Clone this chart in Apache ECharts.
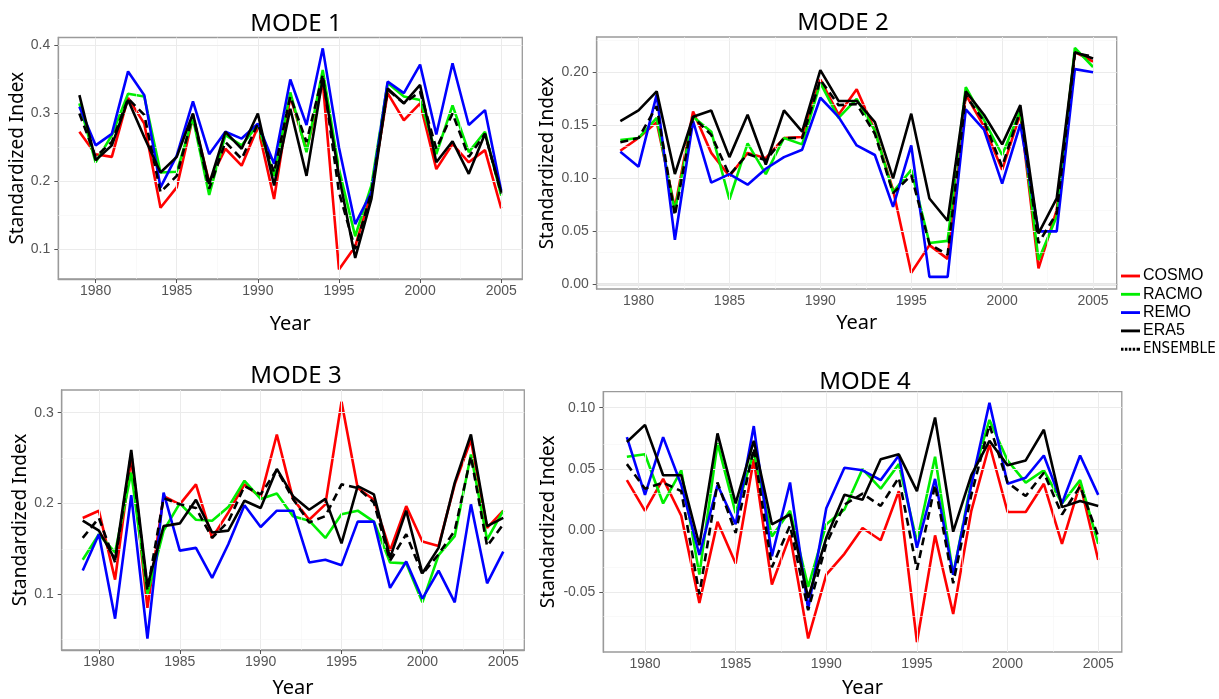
<!DOCTYPE html>
<html><head><meta charset="utf-8">
<script src="https://cdn.jsdelivr.net/npm/echarts/dist/echarts.min.js"></script>
<style>html,body{margin:0;padding:0;background:#fff}#c{width:1219px;height:699px}</style>
</head><body><div id="c"></div>
<script>
const years = [1979,1980,1981,1982,1983,1984,1985,1986,1987,1988,1989,1990,1991,1992,1993,1994,1995,1996,1997,1998,1999,2000,2001,2002,2003,2004,2005];
const seriesNames = ['COSMO','RACMO','REMO','ERA5','ENSEMBLE'];
const modeTitles = ['MODE 1','MODE 2','MODE 3','MODE 4'];
const xTicks = [1980,1985,1990,1995,2000,2005];
const xMinor = [1982.5,1987.5,1992.5,1997.5,2002.5];
const yTicks1 = [0.1,0.2,0.3,0.4];
const yMinor1 = [0.15,0.25,0.35];
const yTicks2 = [0,0.05,0.10,0.15,0.20];
const yMinor2 = [0.025,0.075,0.125,0.175,0.225];
const yTicks3 = [0.1,0.2,0.3];
const yMinor3 = [0.05,0.15,0.25];
const yTicks4 = [-0.05,0,0.05,0.10];
const yMinor4 = [-0.075,-0.025,0.025,0.075];

// MODE 1
const cosmo1 = [0.273,0.240,0.236,0.323,0.285,0.161,0.191,0.295,0.199,0.248,0.223,0.280,0.174,0.325,0.246,0.347,0.070,0.104,0.184,0.330,0.290,0.315,0.218,0.255,0.228,0.246,0.160];
const racmo1 = [0.315,0.228,0.268,0.329,0.325,0.213,0.214,0.293,0.180,0.268,0.253,0.283,0.208,0.331,0.243,0.364,0.218,0.119,0.194,0.345,0.325,0.320,0.240,0.312,0.243,0.273,0.179];
const remo1  = [0.310,0.253,0.270,0.362,0.327,0.191,0.238,0.318,0.240,0.273,0.263,0.285,0.226,0.350,0.283,0.396,0.250,0.137,0.184,0.347,0.330,0.372,0.269,0.374,0.283,0.305,0.186];
const era51  = [0.327,0.231,0.253,0.320,0.265,0.213,0.236,0.300,0.196,0.273,0.248,0.300,0.194,0.307,0.208,0.352,0.208,0.087,0.174,0.337,0.315,0.342,0.228,0.259,0.211,0.270,0.184];
const ens1   = [0.300,0.236,0.258,0.322,0.298,0.184,0.208,0.298,0.189,0.258,0.233,0.285,0.213,0.325,0.258,0.357,0.184,0.100,0.184,0.335,0.315,0.332,0.248,0.300,0.236,0.270,0.182];
// MODE 2
const cosmo2 = [0.126,0.138,0.153,0.072,0.163,0.124,0.102,0.124,0.119,0.138,0.139,0.193,0.160,0.184,0.145,0.089,0.011,0.037,0.024,0.179,0.149,0.108,0.161,0.015,0.070,0.219,0.210];
const racmo2 = [0.136,0.138,0.157,0.069,0.158,0.144,0.080,0.133,0.104,0.138,0.132,0.190,0.157,0.175,0.145,0.087,0.108,0.039,0.041,0.186,0.155,0.122,0.164,0.023,0.064,0.223,0.205];
const remo2  = [0.125,0.111,0.179,0.042,0.154,0.096,0.104,0.094,0.109,0.120,0.127,0.176,0.158,0.131,0.122,0.073,0.131,0.007,0.007,0.165,0.146,0.095,0.151,0.050,0.050,0.203,0.200];
const era52  = [0.154,0.164,0.182,0.104,0.158,0.164,0.120,0.160,0.113,0.164,0.144,0.202,0.173,0.173,0.153,0.100,0.161,0.081,0.060,0.182,0.160,0.132,0.169,0.048,0.081,0.219,0.213];
const ens2   = [0.134,0.138,0.168,0.065,0.158,0.141,0.103,0.123,0.117,0.138,0.138,0.193,0.169,0.170,0.142,0.086,0.103,0.038,0.028,0.178,0.154,0.111,0.164,0.039,0.067,0.218,0.215];
// MODE 3
const cosmo3 = [0.184,0.192,0.116,0.250,0.085,0.208,0.199,0.221,0.162,0.190,0.221,0.207,0.276,0.205,0.182,0.199,0.312,0.217,0.204,0.148,0.197,0.158,0.153,0.221,0.270,0.173,0.192];
const racmo3 = [0.138,0.166,0.146,0.234,0.100,0.170,0.200,0.182,0.181,0.196,0.225,0.205,0.211,0.186,0.181,0.162,0.188,0.192,0.180,0.135,0.134,0.091,0.143,0.164,0.254,0.160,0.192];
const remo3  = [0.126,0.166,0.073,0.209,0.051,0.212,0.148,0.151,0.118,0.155,0.198,0.174,0.192,0.192,0.135,0.138,0.132,0.180,0.180,0.107,0.136,0.095,0.126,0.091,0.199,0.112,0.147];
const era53  = [0.181,0.170,0.138,0.259,0.109,0.175,0.178,0.204,0.168,0.170,0.203,0.195,0.238,0.208,0.193,0.205,0.156,0.219,0.210,0.140,0.192,0.123,0.151,0.223,0.276,0.175,0.184];
const ens3   = [0.162,0.184,0.135,0.255,0.104,0.206,0.199,0.195,0.162,0.180,0.219,0.210,0.237,0.205,0.179,0.186,0.221,0.217,0.201,0.137,0.166,0.122,0.144,0.170,0.252,0.153,0.177];
// MODE 4
const cosmo4 = [0.041,0.016,0.042,0.012,-0.059,0.007,-0.027,0.058,-0.044,-0.004,-0.088,-0.036,-0.019,0.002,-0.008,0.032,-0.091,-0.004,-0.068,0.016,0.070,0.015,0.015,0.038,-0.011,0.038,-0.024];
const racmo4 = [0.060,0.062,0.022,0.049,-0.036,0.071,0.014,0.064,-0.005,0.016,-0.046,0.005,0.017,0.050,0.034,0.054,-0.009,0.060,-0.036,0.040,0.090,0.057,0.039,0.049,0.022,0.041,-0.011];
const remo4  = [0.076,0.029,0.076,0.037,-0.020,0.037,0.005,0.085,-0.021,0.039,-0.064,0.018,0.051,0.049,0.041,0.061,-0.014,0.042,-0.036,0.037,0.104,0.038,0.043,0.061,0.022,0.061,0.029];
const era54  = [0.072,0.086,0.045,0.045,-0.012,0.079,0.022,0.073,0.005,0.013,-0.055,-0.006,0.029,0.025,0.058,0.062,0.032,0.092,-0.001,0.045,0.073,0.053,0.057,0.082,0.019,0.024,0.020];
const ens4   = [0.054,0.034,0.039,0.032,-0.052,0.039,-0.002,0.067,-0.030,0.004,-0.065,-0.011,0.021,0.030,0.020,0.043,-0.032,0.037,-0.043,0.029,0.086,0.039,0.028,0.047,0.013,0.036,-0.005];

const panels = [
  {data:[cosmo1,racmo1,remo1,era51,ens1], ticks:yTicks1, minor:yMinor1, dec:1, yMin:0.056, yMax:0.412,
   grid:{left:58.3, top:37.5, width:464, height:241.5}, title:[291,7], yGap:24, xGap:35},
  {data:[cosmo2,racmo2,remo2,era52,ens2], ticks:yTicks2, minor:yMinor2, dec:2, yMin:-0.0044, yMax:0.2333,
   grid:{left:596.7, top:37, width:520, height:252}, title:[838,6], yGap:40, xGap:24},
  {data:[cosmo3,racmo3,remo3,era53,ens3], ticks:yTicks3, minor:yMinor3, dec:1, yMin:0.0385, yMax:0.325,
   grid:{left:61.7, top:390, width:462.6, height:261}, title:[291,359], yGap:26, xGap:28},
  {data:[cosmo4,racmo4,remo4,era54,ens4], ticks:yTicks4, minor:yMinor4, dec:2, yMin:-0.099, yMax:0.113,
   grid:{left:603.3, top:391.7, width:518.5, height:261.6}, title:[860,365], yGap:45, xGap:26}
];

const colors = ['#ff0000','#00ee00','#0000ff','#000000','#000000'];
const FONT = 'Noto Sans';
const TICKFONT = 'Liberation Sans';

const grids = [], xAxes = [], yAxes = [], series = [], titles = [];
panels.forEach((p, k) => {
  grids.push(Object.assign({show:true, borderColor:'#9a9a9a', borderWidth:1.3, backgroundColor:'#fff', containLabel:false}, p.grid));
  titles.push({text:modeTitles[k], left:p.title[0], top:p.title[1], textAlign:'center',
    textStyle:{fontSize:24, fontWeight:'normal', color:'#000', fontFamily:FONT}});
  xAxes.push({type:'value', gridIndex:k, min:1977.7, max:2006.3,
    name:'Year', nameLocation:'middle', nameGap:p.xGap,
    nameTextStyle:{fontSize:20, color:'#000', fontFamily:FONT},
    axisLine:{show:true, lineStyle:{color:'#9a9a9a', width:1.3}},
    axisTick:{show:true, length:4, lineStyle:{color:'#555'}, customValues:xTicks},
    axisLabel:{fontSize:14, color:'#555', fontFamily:TICKFONT, margin:5, customValues:xTicks, formatter:v=>String(v)},
    splitLine:{show:false}});
  yAxes.push({type:'value', gridIndex:k, min:p.yMin, max:p.yMax,
    name:'Standardized Index', nameLocation:'middle', nameGap:p.yGap,
    nameTextStyle:{fontSize:19, color:'#000', fontFamily:FONT},
    axisLine:{show:true, lineStyle:{color:'#9a9a9a', width:1.3}},
    axisTick:{show:true, length:4, lineStyle:{color:'#555'}, customValues:p.ticks},
    axisLabel:{fontSize:14, color:'#555', fontFamily:TICKFONT, margin:8, customValues:p.ticks,
      formatter:v=>Number(v).toFixed(p.dec)},
    splitLine:{show:false}});
  const ml = [];
  xTicks.forEach(v=>ml.push({xAxis:v, lineStyle:{color:'#ebebeb', width:1, type:'solid'}}));
  xMinor.forEach(v=>ml.push({xAxis:v, lineStyle:{color:'#f5f5f5', width:0.6, type:'solid'}}));
  p.ticks.forEach(v=>ml.push({yAxis:v, lineStyle:{color:'#ebebeb', width:1, type:'solid'}}));
  p.minor.forEach(v=>ml.push({yAxis:v, lineStyle:{color:'#f5f5f5', width:0.6, type:'solid'}}));
  series.push({type:'line', name:'grid'+k, xAxisIndex:k, yAxisIndex:k, data:[], z:1, silent:true,
    markLine:{silent:true, symbol:['none','none'], label:{show:false}, animation:false, data:ml}});
  p.data.forEach((arr, i) => {
    series.push({type:'line', name:seriesNames[i], xAxisIndex:k, yAxisIndex:k,
      data: years.map((y, j) => [y, arr[j]]),
      symbol:'none', z:3+i,
      lineStyle:{color:colors[i], width:2.6, type: i===4 ? [8,5] : 'solid'},
      itemStyle:{color:colors[i]}});
  });
});

const solidIcon = 'path://M0,0 L20,0 L20,3 L0,3 Z';
const dotIcon = 'path://M0,0 L2.6,0 L2.6,3 L0,3 Z M4.1,0 L6.7,0 L6.7,3 L4.1,3 Z M8.2,0 L10.8,0 L10.8,3 L8.2,3 Z M12.3,0 L14.9,0 L14.9,3 L12.3,3 Z M16.4,0 L20,0 L20,3 L16.4,3 Z';

const chart = echarts.init(document.getElementById('c'), null, {renderer:'canvas'});
chart.setOption({
  animation:false,
  backgroundColor:'#fff',
  title:titles,
  grid:grids, xAxis:xAxes, yAxis:yAxes, series:series,
  legend:{orient:'vertical', left:1121, top:268, padding:0, itemGap:2.3, itemWidth:19, itemHeight:3,
    selectedMode:false,
    data:[
      {name:'COSMO', icon:solidIcon},{name:'RACMO', icon:solidIcon},{name:'REMO', icon:solidIcon},
      {name:'ERA5', icon:solidIcon},{name:'ENSEMBLE', icon:dotIcon}
    ],
    formatter: n => n==='ENSEMBLE' ? '{n|ENSEMBLE}' : n,
    textStyle:{fontSize:16, color:'#000', fontFamily:TICKFONT, lineHeight:16, padding:[0,0,0,-2],
      rich:{n:{fontSize:15, fontFamily:'"Liberation Sans Narrow", "DejaVu Sans Condensed", "Liberation Sans"', color:'#000'}}}}
});
</script></body></html>
